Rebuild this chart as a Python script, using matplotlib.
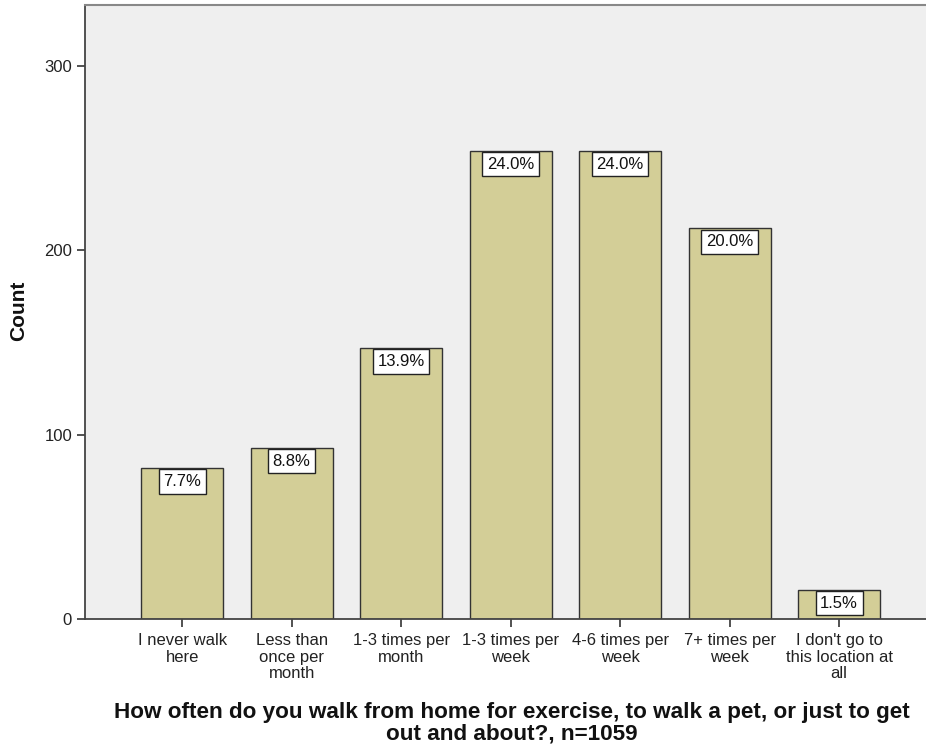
import matplotlib
matplotlib.use("Agg")
import matplotlib.pyplot as plt

categories = ["I never walk\nhere", "Less than\nonce per\nmonth", "1-3 times per\nmonth",
              "1-3 times per\nweek", "4-6 times per\nweek", "7+ times per\nweek",
              "I don't go to\nthis location at\nall"]
counts = [82, 93, 147, 254, 254, 212, 16]
pct_labels = ["7.7%", "8.8%", "13.9%", "24.0%", "24.0%", "20.0%", "1.5%"]
yticks = [0, 100, 200, 300]

plt.rcParams['font.family'] = ['Liberation Sans', 'DejaVu Sans']

fig = plt.figure(figsize=(9.26, 7.46), dpi=100)
ax = fig.add_axes([84.5/926, (746-619)/746, 1 - 84.5/926 + 0.002, (619-4.5)/746])
ax.set_facecolor('#EFEFEF')

x = list(range(len(categories)))
ax.bar(x, counts, width=0.75, color='#D3CE97', edgecolor='#333333', linewidth=1.0, zorder=2)

for xi, v, lab in zip(x, counts, pct_labels):
    ax.annotate(lab, xy=(xi, v), xytext=(0, -9.8), textcoords='offset points',
                ha='center', va='center', fontsize=12, color='#111111',
                bbox=dict(boxstyle='square,pad=0.28', fc='white', ec='#222222', lw=1.0),
                zorder=3)

ax.set_xlim(-0.892, 6.81)
ax.set_ylim(0, 333.3)
ax.set_xticks(x)
ax.set_xticklabels(categories, fontsize=12, linespacing=1.15, color='#222222')
ax.set_yticks(yticks)
ax.set_yticklabels([str(t) for t in yticks], fontsize=12, color='#222222')
ax.tick_params(axis='x', direction='out', length=6, width=1.2, color='#333333', pad=4)
ax.tick_params(axis='y', direction='out', length=6, width=1.2, color='#333333', pad=3)

for s in ['left', 'bottom']:
    ax.spines[s].set_color('#444444')
    ax.spines[s].set_linewidth(1.3)
ax.spines['top'].set_color('#888888')
ax.spines['top'].set_linewidth(1.5)
ax.spines['right'].set_visible(False)

fig.text(19/926, 1 - 311/746, 'Count', rotation=90, ha='center', va='center',
         fontsize=15, fontweight='bold', color='#111111')
fig.text(512/926, 1 - 702/746,
         'How often do you walk from home for exercise, to walk a pet, or just to get\nout and about?, n=1059',
         ha='center', va='top', fontsize=16.2, fontweight='bold', linespacing=1.05,
         color='#111111')

fig.savefig('out.png', dpi=100)
